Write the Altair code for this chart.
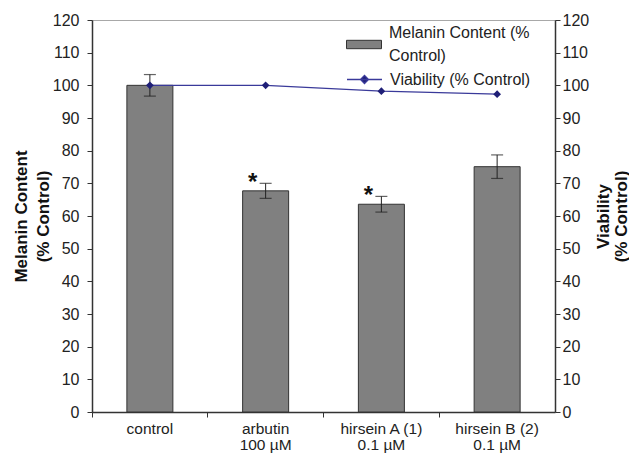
import altair as alt
import pandas as pd

PAD = "\u2002" * 5
categories = ["control", "arbutin|100 µM",
              "hirsein A (1)|0.1 µM" + PAD, "hirsein B (2)|0.1 µM" + PAD]
melanin = [100.0, 67.7, 63.6, 75.1]
melanin_err = [3.3, 2.3, 2.4, 3.6]
viability = [100.0, 100.0, 98.2, 97.3]
significance = ["", "*", "*", ""]
y_ticks = list(range(0, 121, 10))
series_melanin = "Melanin Content (%|Control)"
series_viability = "Viability (% Control)"

df = pd.DataFrame({
    "cat": categories,
    "melanin": melanin,
    "lo": [m - e for m, e in zip(melanin, melanin_err)],
    "hi": [m + e for m, e in zip(melanin, melanin_err)],
    "viab": viability,
    "sig": significance,
    "s1": [series_melanin] * len(categories),
    "s2": [series_viability] * len(categories),
})

FONT = "Liberation Sans"
AX = "#333333"

x = alt.X(
    "cat:N", sort=categories,
    scale=alt.Scale(paddingInner=0, paddingOuter=0),
    axis=alt.Axis(
        title=None, labelAngle=0, bandPosition=0,
        labelExpr="split(datum.label, '|')",
        labelFontSize=15.5, labelLineHeight=16, labelPadding=4,
        labelColor="#222222", labelFont=FONT,
        tickSize=5, tickColor=AX, domainColor=AX, domainWidth=1.5,
    ),
)

yscale = alt.Scale(domain=[0, 120], nice=False)

left_axis = alt.Axis(values=y_ticks, orient="left", grid=False,
                     title=["Melanin Content", "(% Control)"],
                     titleFont=FONT, titleFontSize=17, titleFontWeight="bold",
                     titleColor="#111111", titleLineHeight=22,
                     titleAngle=270, titleX=-79, titleY=196,
                     titleAlign="center", titleBaseline="top",
                     labelFontSize=16, labelFont=FONT, labelColor="#222222",
                     labelPadding=8, tickSize=5, tickColor=AX,
                     domainColor=AX, domainWidth=1.5)

right_axis = alt.Axis(values=y_ticks, orient="right", grid=False,
                      title=["Viability", "(% Control)"],
                      titleFont=FONT, titleFontSize=17, titleFontWeight="bold",
                      titleColor="#111111", titleLineHeight=18,
                      titleAngle=270, titleX=40, titleY=196,
                      titleAlign="center", titleBaseline="top",
                      labelFontSize=16, labelFont=FONT, labelColor="#222222",
                      labelPadding=2, tickSize=5, tickColor=AX,
                      domainColor=AX, domainWidth=1.5)

bars = alt.Chart(df).mark_bar(size=46, stroke="#333333", strokeWidth=1).encode(
    x=x,
    y=alt.Y("melanin:Q", scale=yscale, axis=left_axis),
    fill=alt.Fill("s1:N", scale=alt.Scale(domain=[series_melanin], range=["#808080"]),
                  legend=alt.Legend(
                      title=None, orient="none", legendX=254, legendY=-5,
                      labelExpr="split(datum.label, '|')",
                      labelFont=FONT, labelFontSize=16, labelColor="#222222",
                      labelOffset=7, labelLimit=300,
                      symbolType="M-1,0.417H1V0.897H-1Z", symbolSize=1225,
                      symbolStrokeColor="#333333", symbolStrokeWidth=1,
                      padding=0)),
)

err_rule = alt.Chart(df).mark_rule(color="#222222", strokeWidth=1).encode(
    x=x, y=alt.Y("lo:Q", scale=yscale, axis=left_axis), y2="hi:Q")
cap_hi = alt.Chart(df).mark_tick(size=12, thickness=1.2, color="#222222").encode(
    x=x, y=alt.Y("hi:Q", scale=yscale, axis=left_axis))
cap_lo = alt.Chart(df).mark_tick(size=12, thickness=1.2, color="#222222").encode(
    x=x, y=alt.Y("lo:Q", scale=yscale, axis=left_axis))
stars = alt.Chart(df).mark_text(font=FONT, fontSize=24, fontWeight="bold", dx=-13, dy=7,
                                color="#111111", baseline="alphabetic").encode(
    x=x, y=alt.Y("hi:Q", scale=yscale, axis=left_axis), text="sig:N")

left = alt.layer(bars, err_rule, cap_hi, cap_lo, stars)

line = alt.Chart(df).mark_line(strokeWidth=1.3).encode(
    x=x,
    y=alt.Y("viab:Q", scale=yscale, axis=right_axis),
    stroke=alt.Stroke("s2:N", scale=alt.Scale(domain=[series_viability], range=["#3a3a9a"]),
                      legend=alt.Legend(
                          title=None, orient="none", legendX=254, legendY=41,
                          labelFont=FONT, labelFontSize=16, labelColor="#222222",
                          labelOffset=7, labelLimit=300,
                          symbolType="M-1,0H1M-0.23,0L0,-0.23L0.23,0L0,0.23Z",
                          symbolSize=1225, symbolFillColor="#1f1f77",
                          symbolStrokeWidth=1.3, padding=0)),
)
points = alt.Chart(df).mark_point(shape="diamond", filled=True, size=60, color="#1f1f77",
                                  opacity=1).encode(
    x=x, y=alt.Y("viab:Q", scale=yscale, axis=right_axis))

right = alt.layer(line, points)

chart = alt.layer(left, right).resolve_scale(y="independent").properties(
    width=463, height=392,
    autosize=alt.AutoSizeParams(type="none"),
    padding={"left": 84, "top": 12, "right": 74, "bottom": 41},
).configure(
    background="white",
    style={"guide-label": {"lineHeight": 23}},
).configure_view(stroke="#a8a8a8")

chart.save("out.html", embed_options={"renderer": "svg", "actions": False})
